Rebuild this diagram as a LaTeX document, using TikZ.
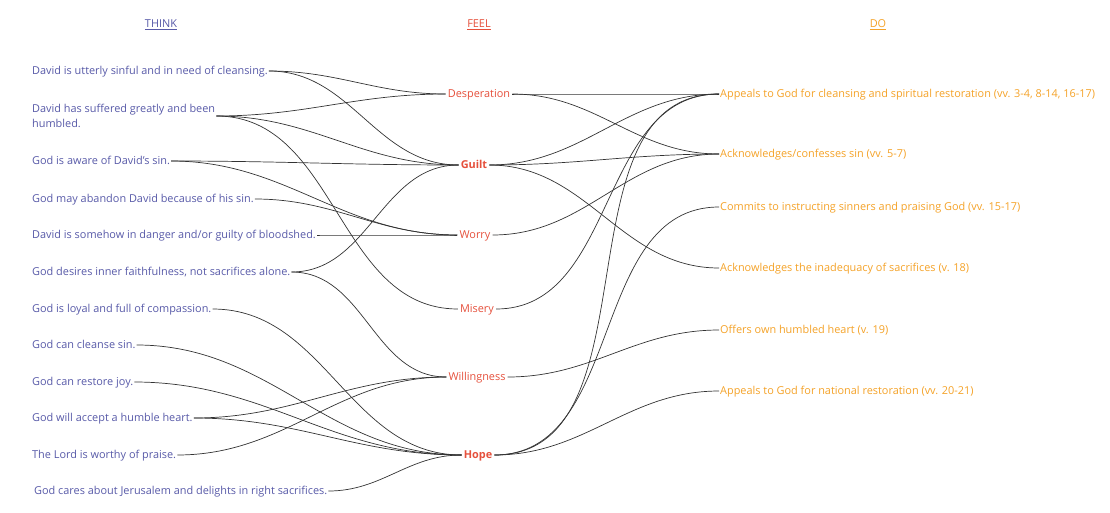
\documentclass[tikz,border=0pt]{standalone}
\usepackage{fontspec}
\setmainfont{Open Sans}
\definecolor{thinkblue}{RGB}{88,90,168}
\definecolor{feelred}{RGB}{229,80,60}
\definecolor{doorange}{RGB}{244,162,40}
\tikzstyle{txt}=[inner sep=1pt,font=\fontsize{10.9}{15}\selectfont,text height=7.8pt,text depth=0pt]
\tikzstyle{head}=[txt]
\tikzstyle{think}=[txt,anchor=west,text=thinkblue]
\tikzstyle{feel}=[txt,inner sep=2pt,text=feelred]
\tikzstyle{doitem}=[txt,anchor=west,text=doorange]
\tikzstyle{link}=[draw=black!80,line width=0.7pt,out=0,in=180]

\begin{document}
\begin{tikzpicture}[x=1pt,y=-1pt]
    \useasboundingbox (0,0) rectangle (1110,512);
    % headings
    \node[head,text=thinkblue] (hthink) at (161,24) {\underline{THINK}};
    \node[head,text=feelred] (hfeel) at (479,24) {\underline{FEEL}};
    \node[head,text=doorange] (hdo) at (878,24) {\underline{DO}};
    % think
    \node[think] (t1) at (31,71) {David is utterly sinful and in need of cleansing.};
    \node[think,text height=,text depth=,align=left] (t2) at (31,116) {David has suffered greatly and been\\humbled.};
    \node[think] (t3) at (31,161) {God is aware of David's sin.};
    \node[think] (t4) at (31,199) {God may abandon David because of his sin.};
    \node[think] (t5) at (31,235) {David is somehow in danger and/or guilty of bloodshed.};
    \node[think] (t6) at (31,272) {God desires inner faithfulness, not sacrifices alone.};
    \node[think] (t7) at (31,309) {God is loyal and full of compassion.};
    \node[think] (t8) at (31,345) {God can cleanse sin.};
    \node[think] (t9) at (31,382) {God can restore joy.};
    \node[think] (t10) at (31,418) {God will accept a humble heart.};
    \node[think] (t11) at (31,455) {The Lord is worthy of praise.};
    \node[think] (t12) at (33,491) {God cares about Jerusalem and delights in right sacrifices.};
    % feel
    \node[feel] (fdesp) at (479,94) {Desperation};
    \node[feel] (fguilt) at (474,165) {\bfseries Guilt};
    \node[feel] (fworry) at (475,235) {Worry};
    \node[feel] (fmisery) at (477,309) {Misery};
    \node[feel] (fwill) at (477,377) {Willingness};
    \node[feel] (fhope) at (478,455) {\bfseries Hope};
    % do
    \node[doitem] (d1) at (719,94) {Appeals to God for cleansing and spiritual restoration (vv. 3-4, 8-14, 16-17)};
    \node[doitem] (d2) at (719,154) {Acknowledges/confesses sin (vv. 5-7)};
    \node[doitem] (d3) at (719,207) {Commits to instructing sinners and praising God (vv. 15-17)};
    \node[doitem] (d4) at (719,268) {Acknowledges the inadequacy of sacrifices (v. 18)};
    \node[doitem] (d5) at (719,330) {Offers own humbled heart (v. 19)};
    \node[doitem] (d6) at (719,391) {Appeals to God for national restoration (vv. 20-21)};
    % think -> feel
    \foreach \a/\b in {t1/fdesp,t1/fguilt,t2/fdesp,t2/fguilt,t2/fmisery,t3/fguilt,t3/fworry,
        t4/fworry,t5/fworry,t6/fguilt,t6/fwill,t7/fhope,t8/fhope,t9/fhope,t10/fwill,t10/fhope,
        t11/fwill,t12/fhope}
        \draw[link] (\a.east) to (\b.west);
    % feel -> do
    \foreach \a/\b in {fdesp/d1,fdesp/d2,fguilt/d1,fguilt/d2,fguilt/d4,fworry/d2,fmisery/d1,
        fwill/d5,fhope/d1,fhope/d3,fhope/d6}
        \draw[link] (\a.east) to (\b.west);
\end{tikzpicture}
\end{document}
